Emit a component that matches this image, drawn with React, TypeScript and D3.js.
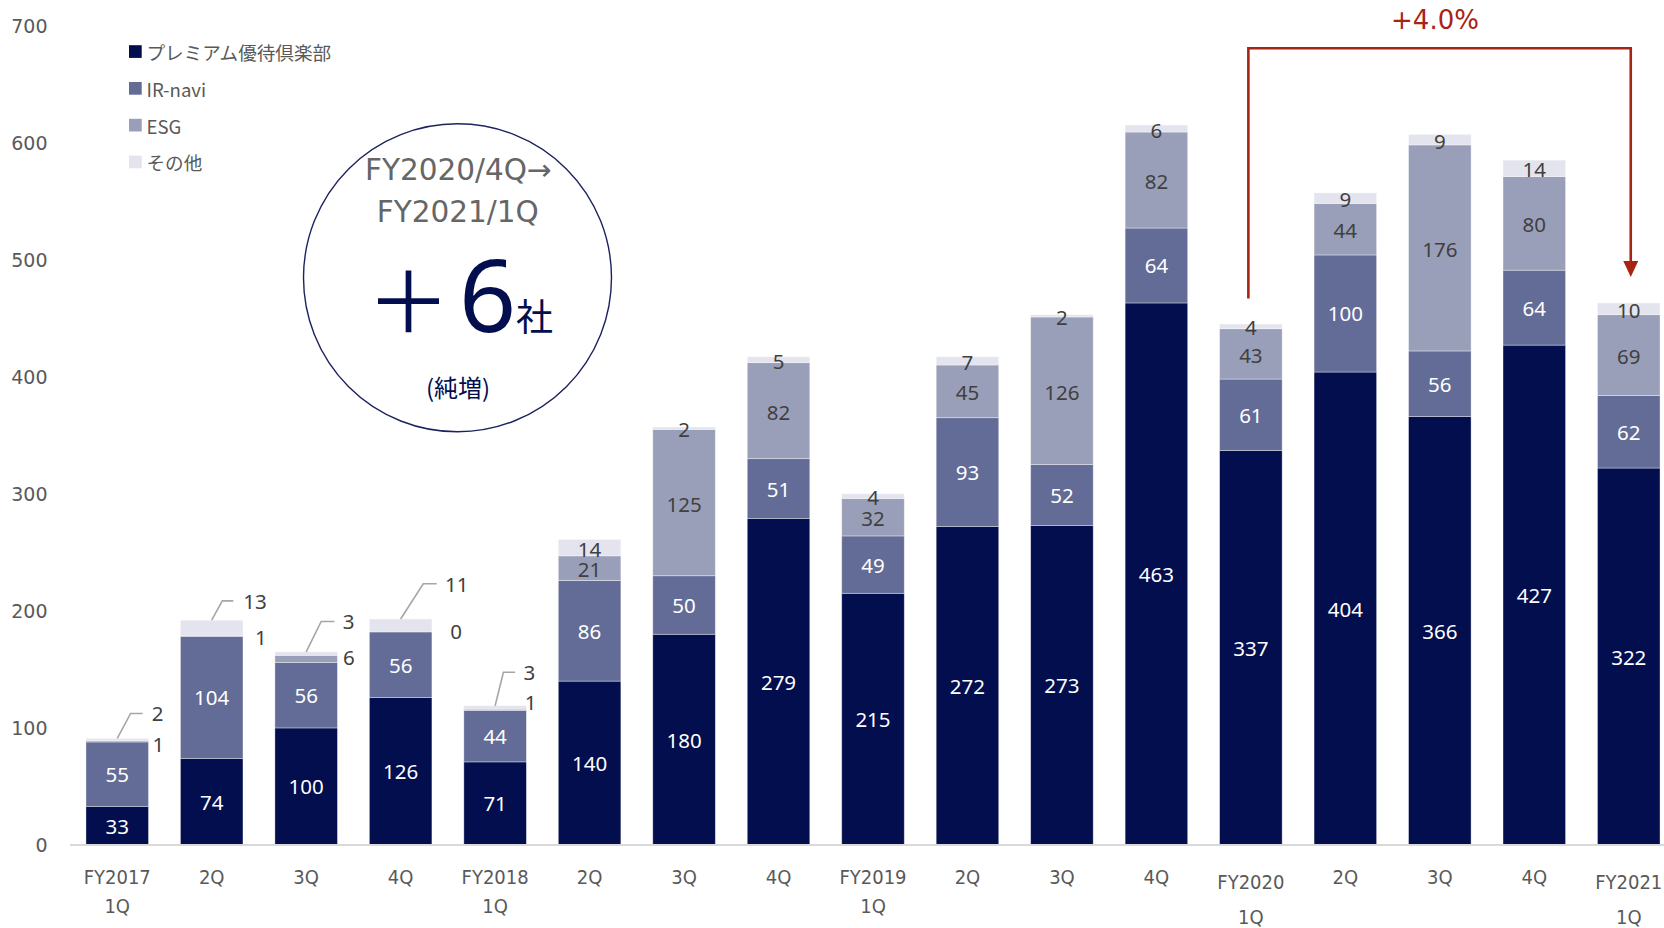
import React from "react";
import * as d3 from "d3";

const categories = [
  "FY2017\n1Q", "2Q", "3Q", "4Q",
  "FY2018\n1Q", "2Q", "3Q", "4Q",
  "FY2019\n1Q", "2Q", "3Q", "4Q",
  "FY2020\n1Q", "2Q", "3Q", "4Q",
  "FY2021\n1Q",
];
const seriesNames = ["プレミアム優待倶楽部", "IR-navi", "ESG", "その他"];
const premium = [33, 74, 100, 126, 71, 140, 180, 279, 215, 272, 273, 463, 337, 404, 366, 427, 322];
const irnavi = [55, 104, 56, 56, 44, 86, 50, 51, 49, 93, 52, 64, 61, 100, 56, 64, 62];
const esg = [1, 1, 6, 0, 1, 21, 125, 82, 32, 45, 126, 82, 43, 44, 176, 80, 69];
const other = [2, 13, 3, 11, 3, 14, 2, 5, 4, 7, 2, 6, 4, 9, 9, 14, 10];
const yTicks = [0, 100, 200, 300, 400, 500, 600, 700];
const growthLabel = "+4.0%";

const colors = ["#020e4e", "#636c96", "#9a9fb9", "#e3e4ee"];
const labelColors = ["#ffffff", "#ffffff", "#404040", "#404040"];

// leader-line layout for the first bars whose small segments are labelled outside
const leaderLayout = [
  { kx: 13.4, ky: 25, hx: 12, gap: 9, esgDx: 4, esgDy: 3 },
  { kx: 10.6, ky: 19.3, hx: 11, gap: 10, esgDx: 12, esgDy: 0.7 },
  { kx: 15, ky: 30.4, hx: 13.3, gap: 8.3, esgDx: 5.6, esgDy: -2 },
  { kx: 22.6, ky: 35.3, hx: 13.4, gap: 8.3, esgDx: 18.4, esgDy: -1 },
  { kx: 8.3, ky: 33.4, hx: 11.7, gap: 8.3, esgDx: -1.7, esgDy: -8 },
];

export default function App() {
  const W = 1664, H = 928;
  const x = d3
    .scaleBand<number>()
    .domain(categories.map((_, i) => i))
    .range([70, 70 + 17 * 94.47])
    .paddingInner(0.338)
    .paddingOuter(0.169);
  const y = d3.scaleLinear().domain([0, 700]).range([845, 25.5]);

  const table = categories.map((c, i) => ({
    i, c,
    vals: [premium[i], irnavi[i], esg[i], other[i]],
  }));
  const stack = d3.stack<any>().keys(["0", "1", "2", "3"]).value((d: any, k: string) => d.vals[+k]);
  const series = stack(table);

  const bw = x.bandwidth();
  const navy = "#020e4e";
  const red = "#a82312";
  const gray = "#595959";

  const i0 = 12, i1 = 16;
  const lx = x(i0)! + bw / 2 - 2.5;
  const rx = x(i1)! + bw / 2 + 2;
  const bracketY = 48.3;

  return (
    <svg width={W} height={H} style={{ position: "absolute", left: 0, top: 0, background: "#fff" }}>
      {/* y tick labels */}
      {yTicks.map((t) => (
        <text key={t} x={47.5} y={y(t)} textAnchor="end" dominantBaseline="central"
          fontFamily="DejaVu Sans, Verdana, sans-serif" fontSize={19} fill={gray}>{t}</text>
      ))}
      {/* bars */}
      {series.map((s, si) => (
        <g key={si} fill={colors[si]}>
          {s.map((d, i) => (
            <rect key={i} x={x(i)} y={y(d[1])} width={bw} height={Math.max(0, y(d[0]) - y(d[1]))}
              stroke="#ffffff" strokeOpacity={0.45} strokeWidth={0.8} />
          ))}
        </g>
      ))}
      {/* axis */}
      <line x1={70} x2={1664} y1={y(0)} y2={y(0)} stroke="#d9d9d9" strokeWidth={2} />
      {/* data labels */}
      {series.map((s, si) =>
        s.map((d, i) => {
          const v = table[i].vals[si];
          if (i < leaderLayout.length && si >= 2) return null;
          const cy = (y(d[0]) + y(d[1])) / 2 + (si >= 2 ? 1 : 0);
          return (
            <text key={si + "-" + i} x={x(i)! + bw / 2} y={cy} textAnchor="middle" dominantBaseline="central"
              fontFamily="Noto Sans, Open Sans, sans-serif" fontSize={20.5} fill={labelColors[si]}>{v}</text>
          );
        })
      )}
      {/* leader labels */}
      {leaderLayout.map((L, i) => {
        const cx = x(i)! + bw / 2;
        const top = y(series[3][i][1]);
        const kneeX = cx + L.kx, kneeY = top - L.ky, endX = kneeX + L.hx;
        const esgC = (y(series[2][i][0]) + y(series[2][i][1])) / 2;
        return (
          <g key={"L" + i}>
            <polyline points={`${cx},${top} ${kneeX},${kneeY} ${endX},${kneeY}`} fill="none" stroke="#a6a6a6" strokeWidth={1.6} />
            <text x={endX + L.gap} y={kneeY} dominantBaseline="central"
              fontFamily="Noto Sans, Open Sans, sans-serif" fontSize={20.5} fill="#404040">{other[i]}</text>
            <text x={x(i)! + bw + L.esgDx} y={esgC + L.esgDy} dominantBaseline="central"
              fontFamily="Noto Sans, Open Sans, sans-serif" fontSize={20.5} fill="#404040">{esg[i]}</text>
          </g>
        );
      })}
      {/* category labels */}
      {categories.map((c, i) => {
        const lines = c.split("\n");
        const low = i >= 12 && lines.length > 1;
        const y1 = low ? 882 : 876.5;
        const dy = low ? 35 : 29.5;
        return (
          <text key={"c" + i} x={x(i)! + bw / 2} textAnchor="middle"
            fontFamily="DejaVu Sans Condensed, Liberation Sans Narrow, sans-serif" fontSize={20} fill={gray}>
            {lines.map((l, k) => (
              <tspan key={k} x={x(i)! + bw / 2} y={y1 + k * dy} dominantBaseline="central">{l}</tspan>
            ))}
          </text>
        );
      })}
      {/* legend */}
      {seriesNames.map((n, k) => {
        const cy = 51.5 + k * 36.8;
        return (
          <g key={"lg" + k}>
            <rect x={129} y={cy - 6.3} width={12.7} height={12.7} fill={colors[k]} />
            <text x={146.5} y={cy} dominantBaseline="central" fontFamily="Noto Sans CJK JP, Noto Sans, sans-serif"
              fontSize={18.6} fill={gray}>{n}</text>
          </g>
        );
      })}
      {/* circle callout */}
      <circle cx={457.5} cy={277.8} r={154} fill="#fff" stroke="#1c225e" strokeWidth={1.4} />
      <text x={458.3} y={180} textAnchor="middle" fontFamily="DejaVu Sans, Verdana, sans-serif" fontSize={29.5} fill="#666666">FY2020/4Q→</text>
      <text x={457.8} y={222} textAnchor="middle" fontFamily="DejaVu Sans, Verdana, sans-serif" fontSize={29.5} fill="#666666">FY2021/1Q</text>
      <text x={408.5} y={333} textAnchor="middle" fontFamily="Noto Sans CJK JP, sans-serif" fontSize={84} fill={navy}>＋</text>
      <text x={487.5} y={332} textAnchor="middle" fontFamily="Noto Sans, sans-serif" fontSize={100} fill={navy}>6</text>
      <text x={516} y={331} fontFamily="Noto Sans CJK JP, sans-serif" fontSize={37} fill={navy}>社</text>
      <text x={458} y={397} textAnchor="middle" fontFamily="Noto Sans CJK JP, sans-serif" fontSize={24} fill={navy}>(純増)</text>
      {/* growth bracket */}
      <polyline points={`${lx},${y(445) - 25.5} ${lx},${bracketY} ${rx},${bracketY} ${rx},${262}`}
        fill="none" stroke={red} strokeWidth={2.6} />
      <polygon points={`${rx - 7.5},${261} ${rx + 7.5},${261} ${rx},${277}`} fill={red} />
      <text x={1435} y={29} textAnchor="middle" fontFamily="DejaVu Sans, Verdana, sans-serif" fontSize={26} fill={red}>{growthLabel}</text>
    </svg>
  );
}
